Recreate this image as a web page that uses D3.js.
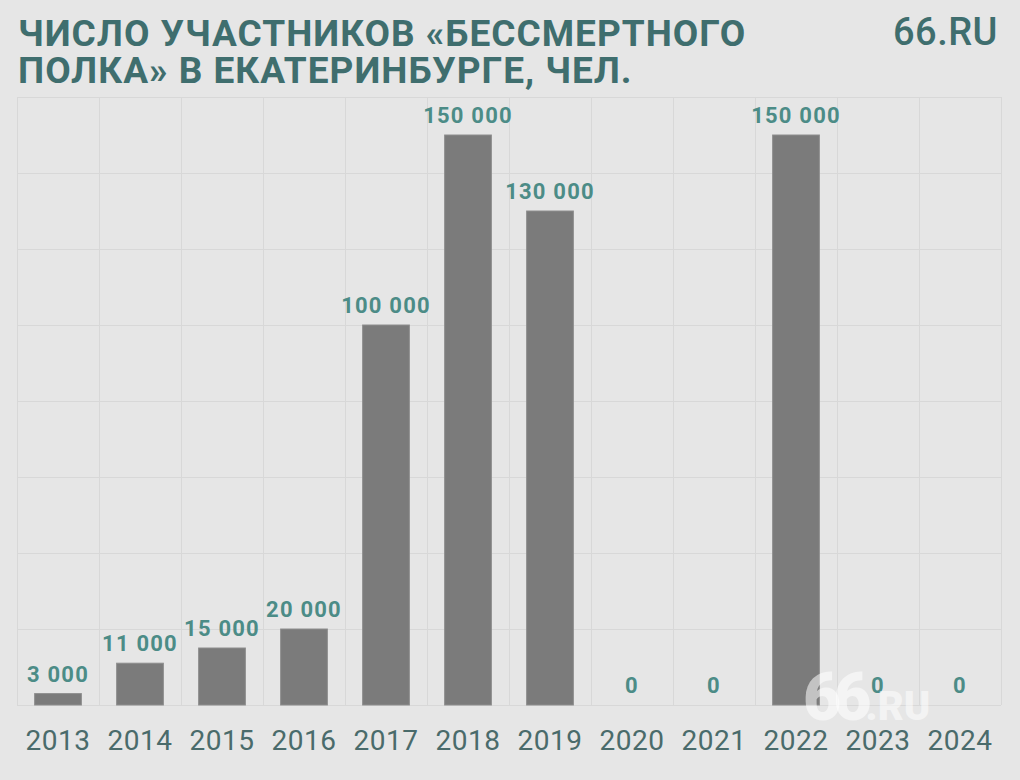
<!DOCTYPE html>
<html><head><meta charset="utf-8">
<script src="https://cdn.jsdelivr.net/npm/d3@7/dist/d3.min.js"></script>
<style>
html,body{margin:0;padding:0;background:#e6e6e6;}
svg{display:block;}
</style></head>
<body>
<svg id="chart" width="1020" height="780"></svg>
<script>
const years = ["2013","2014","2015","2016","2017","2018","2019","2020","2021","2022","2023","2024"];
const participants = [3000,11000,15000,20000,100000,150000,130000,0,0,150000,0,0];
const valueLabels = ["3 000","11 000","15 000","20 000","100 000","150 000","130 000","0","0","150 000","0","0"];
const gridValues = [0,20000,40000,60000,80000,100000,120000,140000,160000];
const titleLines = ["ЧИСЛО УЧАСТНИКОВ «БЕССМЕРТНОГО","ПОЛКА» В ЕКАТЕРИНБУРГЕ, ЧЕЛ."];

const svg = d3.select("#chart");
const W = 1020, H = 780;
const m = {left:17, right:1001, top:97, bottom:705};
svg.append("rect").attr("width",W).attr("height",H).attr("fill","#e6e6e6");

const x = d3.scaleBand().domain(years).range([m.left,m.right]).paddingInner(0.43).paddingOuter(0.215);
const xCell = d3.scaleBand().domain(years).range([m.left,m.right]);
const y = d3.scaleLinear().domain([0,160000]).range([m.bottom,m.top]);

// grid
const g = svg.append("g");
g.selectAll("line.h").data(gridValues).join("line")
  .attr("x1",m.left).attr("x2",m.right)
  .attr("y1",d=>y(d)+0.5).attr("y2",d=>y(d)+0.5)
  .attr("stroke","#d8d8d8").attr("stroke-width",1);
g.selectAll("line.v").data(years.concat(["end"])).join("line")
  .attr("x1",(d,i)=> (i<years.length? xCell(d): m.right)+0.5)
  .attr("x2",(d,i)=> (i<years.length? xCell(d): m.right)+0.5)
  .attr("y1",m.top).attr("y2",m.bottom)
  .attr("stroke","#d8d8d8").attr("stroke-width",1);

// bars
svg.append("g").selectAll("rect").data(years).join("rect")
  .attr("x",d=>x(d)).attr("width",x.bandwidth())
  .attr("y",(d,i)=>y(participants[i]))
  .attr("height",(d,i)=>y(0)-y(participants[i]))
  .attr("fill","#7b7b7b").attr("stroke","#8e8e8e").attr("stroke-width",1);

// value labels
svg.append("g").selectAll("text").data(years).join("text")
  .attr("x",d=>x(d)+x.bandwidth()/2)
  .attr("y",(d,i)=>y(participants[i])-12)
  .attr("text-anchor","middle")
  .attr("font-family","Roboto, 'Open Sans', sans-serif")
  .attr("font-weight","700").attr("font-size",22)
  .attr("letter-spacing","1.2")
  .attr("fill","#4c8c87")
  .text((d,i)=>valueLabels[i]);

// x axis labels
const xAxis = d3.axisBottom(xCell).tickSize(0).tickPadding(0);
const ax = svg.append("g").attr("transform",`translate(0,${m.bottom})`).call(xAxis);
ax.select(".domain").remove();
ax.selectAll("text").attr("y",45).attr("dy",0)
  .attr("font-family","Roboto, sans-serif").attr("font-size",28)
  .attr("letter-spacing","0.5")
  .attr("fill","#4a6b6b");

// title
svg.append("g").selectAll("text").data(titleLines).join("text")
  .attr("x",18).attr("y",(d,i)=>46+i*37)
  .attr("font-family","Roboto, sans-serif").attr("font-weight","700")
  .attr("font-size",37).attr("letter-spacing","1").attr("fill","#3f6e6e")
  .text(d=>d);

// logo
svg.append("text").attr("x",998).attr("y",45).attr("text-anchor","end")
  .attr("font-family","Roboto, sans-serif").attr("font-weight","500")
  .attr("font-size",38).attr("letter-spacing","0.5").attr("fill","#3f6e6e").text("66.RU");

// watermark
const wm = svg.append("text").attr("x",803).attr("y",720)
  .attr("font-family","Roboto, sans-serif").attr("font-weight","900")
  .attr("fill","#ffffff").attr("fill-opacity",0.55);
wm.append("tspan").attr("font-size",66).attr("letter-spacing","-8").text("66");
wm.append("tspan").attr("font-size",40).attr("dx",2).text(".RU");
</script>
</body></html>
